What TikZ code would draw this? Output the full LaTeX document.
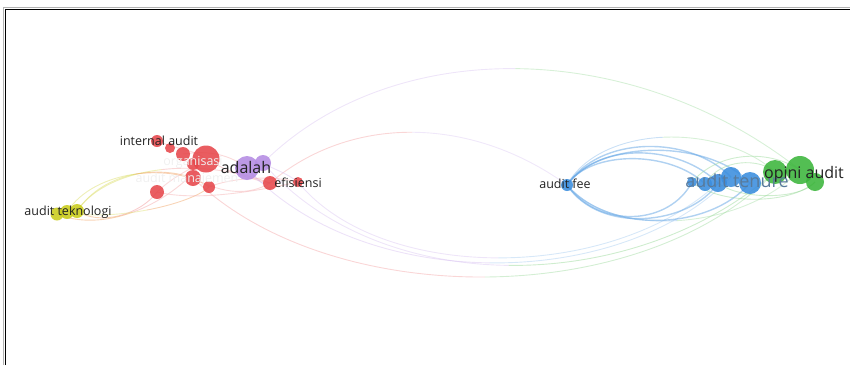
\documentclass[tikz,border=0pt]{standalone}
\usepackage{fontspec}
\setmainfont{Open Sans}
\usetikzlibrary{calc}
\definecolor{vosred}{HTML}{E6474B}
\definecolor{vospurple}{HTML}{B48BE3}
\definecolor{vosblue}{HTML}{3A8DDE}
\definecolor{vosgreen}{HTML}{3BB53B}
\definecolor{vosyellow}{HTML}{C9CC1B}
\definecolor{vosorange}{HTML}{F0A060}
\definecolor{voslabel}{HTML}{222222}

\tikzset{
  edge/.style={line width=0.9pt,opacity=.45},
  bluedge/.style={line width=1.4pt,opacity=.5,vosblue!80},
  vnode/.style={circle,inner sep=0pt,fill opacity=.88},
  lbl/.style={text=voslabel,inner sep=0pt,font=\fontsize{12.5}{12}\selectfont},
  biglbl/.style={lbl,font=\fontsize{16}{16}\selectfont},
  ghost/.style={lbl,text=gray!12}
}

% edge split at its middle, one colour per half
\newcommand{\gradedge}[6]{%
  \coordinate (ga) at ($(#1)!.5!(#2)$);
  \coordinate (gb) at ($(#2)!.5!(#3)$);
  \coordinate (gc) at ($(#3)!.5!(#4)$);
  \coordinate (gab) at ($(ga)!.5!(gb)$);
  \coordinate (gbc) at ($(gb)!.5!(gc)$);
  \coordinate (gm) at ($(gab)!.5!(gbc)$);
  \draw[edge,#5] (#1) .. controls (ga) and (gab) .. (gm);
  \draw[edge,#6] (gm) .. controls (gbc) and (gc) .. (#4);
}

\begin{document}
\begin{tikzpicture}[x=1pt,y=-1pt]
  \useasboundingbox (0,0) rectangle (850,365);

  % ---- Frame --------------------------------------------------
  \draw[gray!60,line width=1pt] (3,365) -- (3,7) -- (850,7);
  \draw[black,line width=1.6pt] (5.5,365) -- (5.5,9.5) -- (850,9.5);

  % ---- Positions ----------------------------------------------
  % yellow cluster
  \coordinate (tek1) at (57,214);
  \coordinate (tek2) at (67,212);
  \coordinate (tek3) at (77,211);
  % red cluster
  \coordinate (intaud) at (157,141);
  \coordinate (r2) at (170,148);
  \coordinate (r3) at (183,154);
  \coordinate (r4) at (193,164);
  \coordinate (rbig) at (206,159);
  \coordinate (r5) at (193,178);
  \coordinate (r6) at (209,187);
  \coordinate (r7) at (157,192);
  \coordinate (efi1) at (270,183);
  \coordinate (efi2) at (298,182);
  % purple cluster
  \coordinate (adal1) at (247,168);
  \coordinate (adal2) at (263,163);
  % blue cluster
  \coordinate (fee) at (567,185);
  \coordinate (ten1) at (692,182);
  \coordinate (ten2) at (705,184);
  \coordinate (ten3) at (718,183);
  \coordinate (ten4) at (731,177);
  \coordinate (ten5) at (750,183);
  % green cluster
  \coordinate (opi1) at (775,172);
  \coordinate (opi2) at (800,170);
  \coordinate (opi3) at (815,182);

  % ---- Long links ---------------------------------------------
  \gradedge{adal2}{390,36}{630,36}{opi2}{vospurple!50}{vosgreen!45}
  \gradedge{efi1}{350,115}{470,115}{fee}{vosred!50}{vospurple!45}
  \gradedge{r5}{330,311}{640,311}{opi1}{vosred!50}{vosgreen!50}
  \gradedge{adal1}{360,293}{620,293}{ten4}{vospurple!55}{vosblue!45}
  \gradedge{efi2}{380,283}{610,283}{ten3}{vospurple!50}{vosblue!45}
  \gradedge{adal2}{380,298}{630,298}{opi1}{vospurple!50}{vosgreen!55}

  % ---- Yellow to red links ------------------------------------
  \gradedge{tek3}{105,170}{160,166}{r5}{vosyellow!70}{vosorange}
  \gradedge{tek2}{95,168}{175,163}{r6}{vosyellow!70}{vosorange}
  \gradedge{tek3}{110,163}{205,158}{efi1}{vosyellow!70}{vosred!50}
  \gradedge{tek3}{100,226}{140,215}{r7}{vosorange}{vosred!60}
  \gradedge{tek1}{100,232}{165,210}{rbig}{vosorange}{vosred!50}
  \gradedge{tek2}{110,222}{190,205}{r6}{vosyellow!60}{vosorange}

  % ---- Red and purple links -----------------------------------
  \draw[edge,vosred!45] (intaud) .. controls (180,150) and (195,150) .. (rbig);
  \draw[edge,vosred!45] (rbig) .. controls (225,170) and (245,178) .. (efi1);
  \draw[edge,vosred!45] (r5) .. controls (225,195) and (250,195) .. (efi1);
  \draw[edge,vosred!45] (r7) .. controls (190,200) and (240,195) .. (efi2);
  \draw[edge,vosred!45] (r3) .. controls (210,150) and (230,155) .. (adal1);
  \draw[edge,vosred!45] (r6) .. controls (230,178) and (270,175) .. (efi2);
  \draw[edge,vosred!45] (r7) .. controls (175,175) and (190,170) .. (rbig);
  \draw[edge,vospurple!55] (adal1) .. controls (255,180) and (262,185) .. (efi1);
  \draw[edge,vospurple!55] (adal2) .. controls (275,170) and (285,172) .. (efi2);

  % ---- Blue to blue and green links ---------------------------
  \draw[bluedge] (fee) .. controls (600,140) and (680,145) .. (ten3);
  \draw[bluedge] (fee) .. controls (600,135) and (690,135) .. (ten4);
  \draw[bluedge] (fee) .. controls (600,138) and (710,140) .. (ten5);
  \draw[bluedge] (fee) .. controls (590,150) and (670,150) .. (ten2);
  \gradedge{fee}{600,125}{720,122}{opi1}{vosblue!60}{vosgreen!45}
  \draw[bluedge] (fee) .. controls (600,230) and (670,225) .. (ten1);
  \draw[bluedge] (fee) .. controls (600,235) and (690,225) .. (ten3);
  \draw[bluedge] (fee) .. controls (610,235) and (710,230) .. (ten5);
  \gradedge{fee}{610,238}{740,232}{opi2}{vosblue!60}{vosgreen!45}
  \draw[edge,vosgreen!55] (ten1) .. controls (720,150) and (770,150) .. (opi2);
  \draw[edge,vosgreen!55] (ten1) .. controls (720,205) and (790,205) .. (opi3);
  \draw[edge,vosgreen!55] (ten3) .. controls (740,200) and (800,200) .. (opi3);
  \draw[edge,vosgreen!55] (ten2) .. controls (720,158) and (760,158) .. (opi1);

  % ---- Nodes --------------------------------------------------
  \node[vnode,fill=vosyellow,minimum size=13pt] (n-tek1) at (tek1) {};
  \node[vnode,fill=vosyellow,minimum size=14pt] (n-tek2) at (tek2) {};
  \node[vnode,fill=vosyellow,minimum size=14pt] (n-tek3) at (tek3) {};

  \node[vnode,fill=vosred,minimum size=12pt] (n-intaud) at (intaud) {};
  \node[vnode,fill=vosred,minimum size=10pt] (n-r2) at (r2) {};
  \node[vnode,fill=vosred,minimum size=14pt] (n-r3) at (r3) {};
  \node[vnode,fill=vosred,minimum size=12pt] (n-r4) at (r4) {};
  \node[vnode,fill=vosred,minimum size=27pt] (n-rbig) at (rbig) {};
  \node[vnode,fill=vosred,minimum size=16pt] (n-r5) at (r5) {};
  \node[vnode,fill=vosred,minimum size=12pt] (n-r6) at (r6) {};
  \node[vnode,fill=vosred,minimum size=14pt] (n-r7) at (r7) {};
  \node[vnode,fill=vosred,minimum size=14pt] (n-efi1) at (efi1) {};
  \node[vnode,fill=vosred,minimum size=10pt] (n-efi2) at (efi2) {};

  \node[vnode,fill=vospurple,minimum size=24pt] (n-adal1) at (adal1) {};
  \node[vnode,fill=vospurple,minimum size=16pt] (n-adal2) at (adal2) {};

  \node[vnode,fill=vosblue,minimum size=12pt] (n-fee) at (fee) {};
  \node[vnode,fill=vosblue,minimum size=10pt] (n-ten1) at (ten1) {};
  \node[vnode,fill=vosblue,minimum size=14pt] (n-ten2) at (ten2) {};
  \node[vnode,fill=vosblue,minimum size=18pt] (n-ten3) at (ten3) {};
  \node[vnode,fill=vosblue,minimum size=20pt] (n-ten4) at (ten4) {};
  \node[vnode,fill=vosblue,minimum size=22pt] (n-ten5) at (ten5) {};

  \node[vnode,fill=vosgreen,minimum size=24pt] (n-opi1) at (opi1) {};
  \node[vnode,fill=vosgreen,minimum size=28pt] (n-opi2) at (opi2) {};
  \node[vnode,fill=vosgreen,minimum size=18pt] (n-opi3) at (opi3) {};

  % ---- Labels -------------------------------------------------
  \node[ghost] (l-organisasi) at (193,162) {organisasi};
  \node[ghost] (l-manajemen) at (187,179) {audit manajemen};
  \node[lbl] (l-teknologi) at (68,212) {audit teknologi};
  \node[lbl] (l-intaud) at (159,141) {internal audit};
  \node[biglbl] (l-adalah) at (246,167) {adalah};
  \node[lbl] (l-efisiensi) at (298,183) {efisiensi};
  \node[lbl] (l-fee) at (565,184) {audit fee};
  \node[biglbl,font=\fontsize{18}{18}\selectfont,text=vosblue!55!black!75] (l-tenure) at (737,181) {audit tenure};
  \node[biglbl] (l-opini) at (804,174) {opini audit};
\end{tikzpicture}
\end{document}
